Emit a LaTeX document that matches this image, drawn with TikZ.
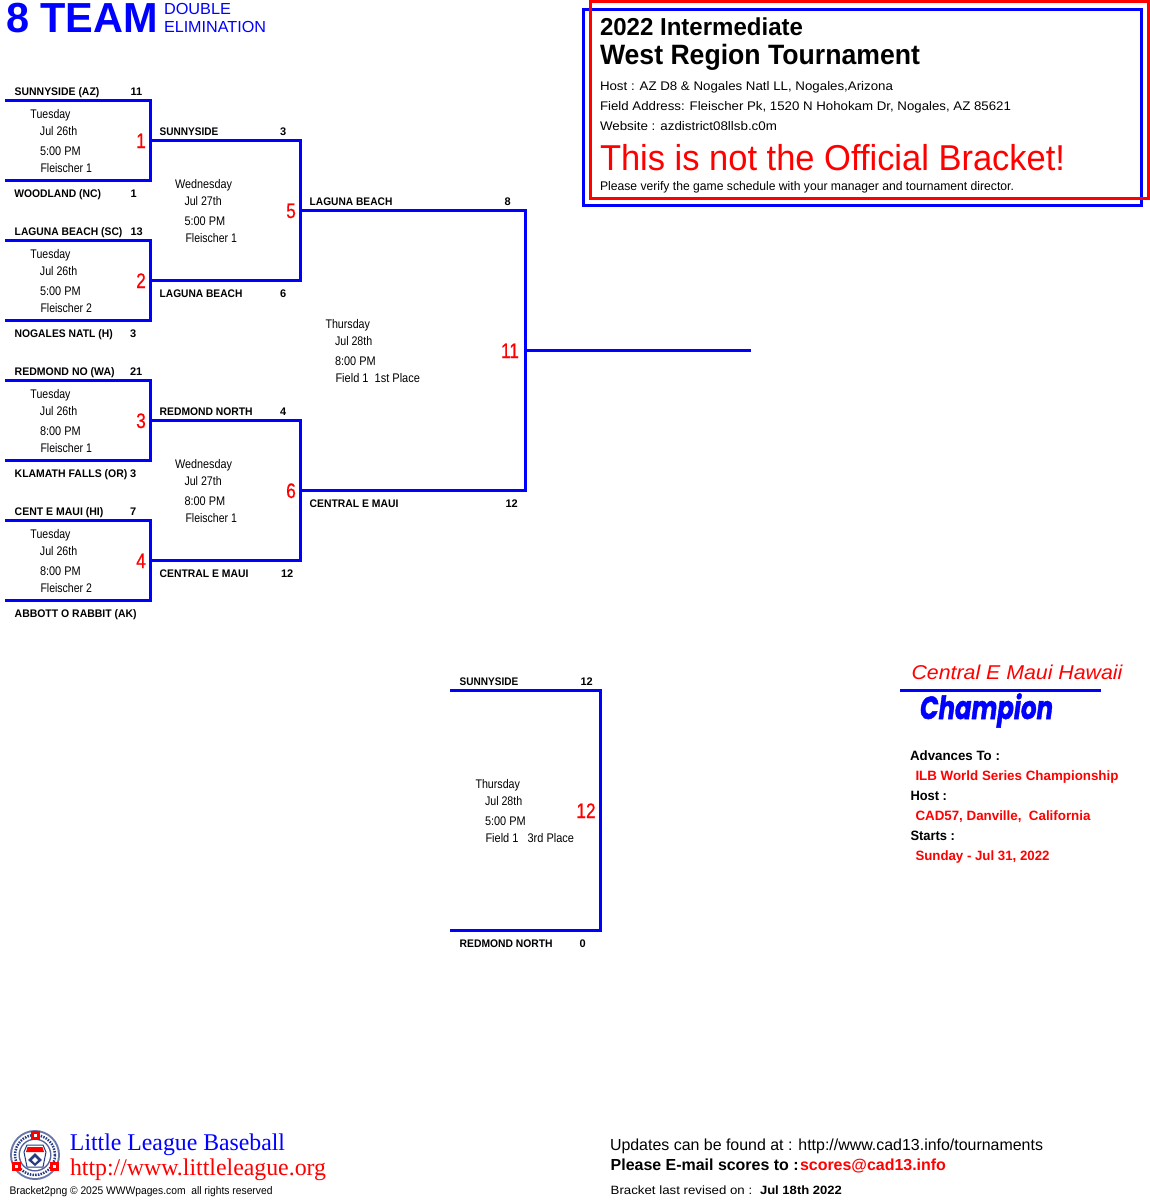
\documentclass[tikz,border=0pt]{standalone}
\usepackage{fontspec}
\usepackage{graphicx}
\setmainfont{Liberation Sans}
\newfontfamily\narrowf[FakeStretch=0.85]{Liberation Sans}
\newfontfamily\numf[FakeStretch=0.82,FakeBold=0.6]{Liberation Sans}
\newfontfamily\serf{Liberation Serif}
\newfontfamily\champf[FakeBold=1.5]{Poppins}
\definecolor{bblue}{RGB}{0,0,255}
\definecolor{rred}{RGB}{255,0,0}
\definecolor{lgnavy}{RGB}{40,60,130}
\tikzset{
  txt/.style={anchor=base west,inner sep=0pt,outer sep=0pt},
  team/.style={txt,font=\bfseries\fontsize{11}{11}\selectfont},
  score/.style={team},
  info/.style={txt,font=\fontsize{12.5}{12.5}\selectfont},
  sched/.style={txt,font=\narrowf\fontsize{12.5}{12.5}\selectfont},
  gamenum/.style={anchor=base,inner sep=0pt,outer sep=0pt,text=rred,font=\numf\fontsize{21}{21}\selectfont},
  bracket/.style={draw=bblue,line width=3pt},
  frameblue/.style={draw=bblue,line width=3pt},
  framered/.style={draw=rred,line width=3pt},
  adv/.style={txt,font=\bfseries\fontsize{13.5}{13.5}\selectfont},
  advred/.style={adv,text=rred},
}
% name, x, baseline, width, text (horizontally fitted to the target width)
\newcommand\fitt[6][txt]{\node[#1] (#2) at (#3,#4) {\resizebox{#5pt}{\height}{#6}};}
\newcommand\schedule[7]{%
  \fitt[sched]{#1a}{#2}{#3}{#5}{#4}%
  \fitt[sched]{#1b}{#2+9.5}{#3+17}{37.3}{#6}%
  \fitt[sched]{#1c}{#2+9.5}{#3+37}{40.7}{#7}%
}
\begin{document}
\begin{tikzpicture}[x=1pt,y=-1pt]
\useasboundingbox (0,0) rectangle (1150,1200);
\fill[white] (0,0) rectangle (1150,1200);

% frames
\draw[frameblue] (583.5,9) rectangle (1141.5,205);
\draw[framered] (590,1.5) rectangle (1148.5,198);

% title
\fitt[txt,text=bblue,font=\bfseries\fontsize{42}{42}\selectfont]{title}{6}{32.5}{152}{8 TEAM}
\fitt[txt,text=bblue,font=\fontsize{16}{16}\selectfont]{dbl}{164}{14.5}{67}{DOUBLE}
\fitt[txt,text=bblue,font=\fontsize{16}{16}\selectfont]{elim}{164}{32}{102}{ELIMINATION}

% header
\fitt[txt,font=\bfseries\fontsize{24.5}{24.5}\selectfont]{h1}{600}{35}{203}{2022 Intermediate}
\fitt[txt,font=\bfseries\fontsize{28}{28}\selectfont]{h2}{600}{64.5}{320}{West Region Tournament}
\fitt[info]{h3}{600}{90}{293}{Host : AZ D8 \& Nogales Natl LL, Nogales,Arizona}
\fitt[info]{h4}{600}{110}{411}{Field Address: Fleischer Pk, 1520 N Hohokam Dr, Nogales, AZ 85621}
\fitt[info]{h5}{600}{130}{177}{Website : azdistrict08llsb.c0m}
\fitt[txt,text=rred,font=\fontsize{36}{36}\selectfont]{h6}{600}{170}{465}{This is not the Official Bracket!}
\fitt[info]{h7}{600}{190}{414}{Please verify the game schedule with your manager and tournament director.}

% coordinates of the bracket
\foreach \n/\t/\b in {g1/100/180,g2/240/320,g3/380/460,g4/520/600}{
  \coordinate (\n tl) at (5,\t);
  \coordinate (\n tr) at (150,\t);
  \coordinate (\n br) at (150,\b);
  \coordinate (\n bl) at (5,\b);
}
\foreach \n/\t/\b in {g5/140/280,g6/420/560}{
  \coordinate (\n tl) at (150,\t);
  \coordinate (\n tr) at (300,\t);
  \coordinate (\n br) at (300,\b);
  \coordinate (\n bl) at (150,\b);
}
\coordinate (g11tl) at (300,210);
\coordinate (g11tr) at (525,210);
\coordinate (g11br) at (525,490);
\coordinate (g11bl) at (300,490);
\coordinate (g11m) at (525,350);
\coordinate (g11e) at (751,350);
\coordinate (g12tl) at (450,690);
\coordinate (g12tr) at (600,690);
\coordinate (g12br) at (600,930);
\coordinate (g12bl) at (450,930);
\coordinate (champl) at (900,690);
\coordinate (champr) at (1101,690);

\foreach \n in {g1,g2,g3,g4,g5,g6,g11,g12}{
  \draw[bracket] (\n tl) -- (\n tr) -- (\n br) -- (\n bl);
}
\draw[bracket] (g11m) -- (g11e);
\draw[bracket] (champl) -- (champr);

% teams
\fitt[team]{t1}{14.7}{95}{84.7}{SUNNYSIDE (AZ)}
\node[score] (s1) at (130.5,95) {11};
\fitt[team]{t2}{14.3}{197}{86.7}{WOODLAND (NC)}
\node[score] (s2) at (130.5,197) {1};
\fitt[team]{t3}{14.7}{235}{107.7}{LAGUNA BEACH (SC)}
\node[score] (s3) at (130.5,235) {13};
\fitt[team]{t4}{14.7}{337}{98}{NOGALES NATL (H)}
\node[score] (s4) at (130,337) {3};
\fitt[team]{t5}{14.7}{375}{100}{REDMOND NO (WA)}
\node[score] (s5) at (130,375) {21};
\fitt[team]{t6}{14.7}{477}{112.7}{KLAMATH FALLS (OR)}
\node[score] (s6) at (130,477) {3};
\fitt[team]{t7}{14.7}{515}{88.7}{CENT E MAUI (HI)}
\node[score] (s7) at (130,515) {7};
\fitt[team]{t8}{14.7}{617}{122}{ABBOTT O RABBIT (AK)}

\fitt[team]{t9}{159.7}{135}{58.7}{SUNNYSIDE}
\node[score] (s9) at (280,135) {3};
\fitt[team]{t10}{159.7}{297}{82.7}{LAGUNA BEACH}
\node[score] (s10) at (280,297) {6};
\fitt[team]{t11}{159.7}{415}{93}{REDMOND NORTH}
\node[score] (s11) at (280,415) {4};
\fitt[team]{t12}{159.7}{577}{88.7}{CENTRAL E MAUI}
\node[score] (s12) at (281,577) {12};

\fitt[team]{t13}{309.7}{205}{82.7}{LAGUNA BEACH}
\node[score] (s13) at (504.5,205) {8};
\fitt[team]{t14}{309.7}{507}{88.7}{CENTRAL E MAUI}
\node[score] (s14) at (505.5,507) {12};

\fitt[team]{t15}{459.7}{685}{58.7}{SUNNYSIDE}
\node[score] (s15) at (580.5,685) {12};
\fitt[team]{t16}{459.7}{947}{93}{REDMOND NORTH}
\node[score] (s16) at (579.5,947) {0};

% schedules
\schedule{a}{30.5}{118}{Tuesday}{40}{Jul 26th}{5:00 PM}
\fitt[sched]{ad}{40.5}{172}{51.5}{Fleischer 1}
\schedule{b}{30.5}{258}{Tuesday}{40}{Jul 26th}{5:00 PM}
\fitt[sched]{bd}{40.5}{312}{51.5}{Fleischer 2}
\schedule{c}{30.5}{398}{Tuesday}{40}{Jul 26th}{8:00 PM}
\fitt[sched]{cd}{40.5}{452}{51.5}{Fleischer 1}
\schedule{d}{30.5}{538}{Tuesday}{40}{Jul 26th}{8:00 PM}
\fitt[sched]{dd}{40.5}{592}{51.5}{Fleischer 2}
\schedule{e}{175}{188}{Wednesday}{57}{Jul 27th}{5:00 PM}
\fitt[sched]{ed}{185.5}{242}{51.5}{Fleischer 1}
\schedule{f}{175}{468}{Wednesday}{57}{Jul 27th}{8:00 PM}
\fitt[sched]{fd}{185.5}{522}{51.5}{Fleischer 1}
\schedule{k}{325.5}{328}{Thursday}{44.5}{Jul 28th}{8:00 PM}
\fitt[sched]{kd}{335.5}{382}{84.5}{Field 1\ \ 1st Place}
\schedule{m}{475.5}{788}{Thursday}{44.5}{Jul 28th}{5:00 PM}
\fitt[sched]{md}{485.5}{842}{88.5}{Field 1\ \ \ 3rd Place}

% game numbers
\node[gamenum] (n1) at (141,148) {1};
\node[gamenum] (n2) at (141,288) {2};
\node[gamenum] (n3) at (141,428) {3};
\node[gamenum] (n4) at (141,568) {4};
\node[gamenum] (n5) at (291,218) {5};
\node[gamenum] (n6) at (291,498) {6};
\node[gamenum] (n11) at (510,358) {11};
\node[gamenum] (n12) at (586,818) {12};

% champion panel
\fitt[txt,text=rred,font=\itshape\fontsize{20}{20}\selectfont]{c1}{911.5}{679}{211}{Central E Maui Hawaii}
\fitt[txt,text=bblue,font=\champf\bfseries\itshape\fontsize{32}{32}\selectfont]{c2}{920}{719}{133}{Champion}
\fitt[adv]{c3}{910}{760}{90}{Advances To :}
\fitt[advred]{c4}{915.5}{780}{203}{ILB World Series Championship}
\fitt[adv]{c5}{910.5}{800}{36.5}{Host :}
\fitt[advred]{c6}{915.5}{820}{175}{CAD57, Danville,\ \ California}
\fitt[adv]{c7}{910.5}{840}{44.5}{Starts :}
\fitt[advred]{c8}{915.5}{860}{134}{Sunday - Jul 31, 2022}

% logo
\fill[lgnavy!70!white] (35,1155) circle (25);
\fill[white] (35,1155) circle (23);
\draw[lgnavy,line width=2.5pt,dash pattern=on 1.5pt off 1.2pt] (35,1155) circle (20);
\fill[lgnavy!80!white] (35,1155) circle (16.5);
\fill[white] (35,1155) circle (15);
\foreach \sx/\sy in {35/1135.5,16/1166.5,54/1166.5}{
  \fill[rred] (\sx-4.5,\sy-4.5) rectangle (\sx+4.5,\sy+4.5);
  \fill[white] (\sx-1.5,\sy-1.5) rectangle (\sx+1.5,\sy+1.5);
}
\fill[white,draw=lgnavy,line width=1pt] (27,1145) -- (43,1145) -- (46,1152) -- (43,1167) -- (27,1167) -- (24,1152) -- cycle;
\fill[rred] (27.5,1147) -- (42.5,1147) -- (44,1152) -- (26,1152) -- cycle;
\fill[lgnavy] (35,1153) -- (42,1160) -- (35,1166) -- (28,1160) -- cycle;
\fill[white] (35,1157) -- (38,1160) -- (35,1163) -- (32,1160) -- cycle;

% footer
\fitt[txt,text=bblue,font=\serf\fontsize{24}{24}\selectfont]{f1}{70}{1150}{215}{Little League Baseball}
\fitt[txt,text=rred,font=\serf\fontsize{24}{24}\selectfont]{f2}{70}{1175}{256}{http://www.littleleague.org}
\fitt[txt,font=\fontsize{11}{11}\selectfont]{f3}{9.5}{1194}{263}{Bracket2png © 2025 WWWpages.com\ \ all rights reserved}
\fitt[txt,font=\fontsize{16}{16}\selectfont]{f4}{610}{1150}{433}{Updates can be found at : http://www.cad13.info/tournaments}
\fitt[txt,font=\bfseries\fontsize{16}{16}\selectfont]{f5}{610.7}{1170}{188}{Please E-mail scores to :}
\fitt[txt,text=rred,font=\bfseries\fontsize{16}{16}\selectfont]{f6}{800}{1170}{146}{scores@cad13.info}
\fitt[txt,font=\fontsize{12}{12}\selectfont]{f7}{610.7}{1194}{141.5}{Bracket last revised on :}
\fitt[txt,font=\bfseries\fontsize{12}{12}\selectfont]{f8}{760}{1194}{82}{Jul 18th 2022}
\end{tikzpicture}
\end{document}
